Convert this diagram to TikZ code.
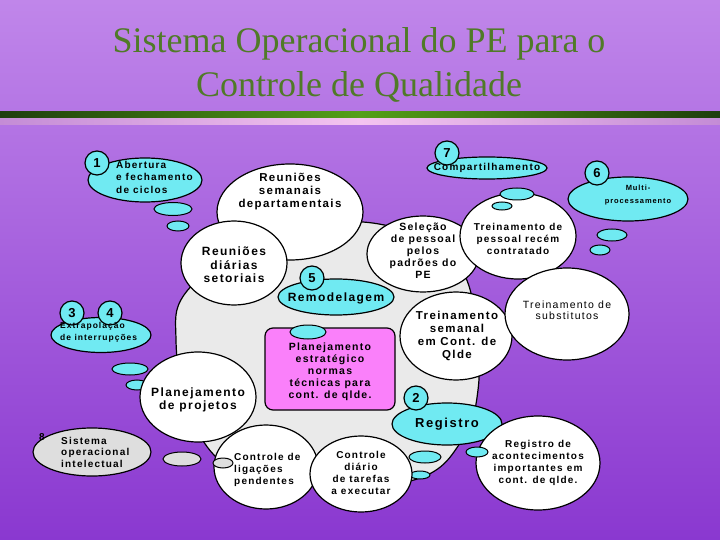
\documentclass[tikz,border=0pt]{standalone}
\usepackage{fontspec}
\setmainfont{Liberation Sans}
\newfontfamily\bubfont{Liberation Sans}[LetterSpace=12]
\newfontfamily\titlefont{Liberation Serif}
\newcommand\bsf[2]{\bubfont\bfseries\fontsize{#1}{#2}\selectfont}
\usetikzlibrary{shapes.geometric,calc}

\definecolor{bgtop}{RGB}{192,134,234}
\definecolor{bgbot}{RGB}{138,56,208}
\definecolor{bardark}{RGB}{30,62,12}
\definecolor{barlight}{RGB}{84,160,24}
\definecolor{pinkdark}{RGB}{196,140,214}
\definecolor{pinklight}{RGB}{244,196,240}
\definecolor{titlegreen}{RGB}{80,122,40}
\definecolor{bubcyan}{RGB}{112,234,242}
\definecolor{boxpink}{RGB}{250,128,250}
\definecolor{blobgray}{RGB}{234,234,234}
\definecolor{sysgray}{RGB}{222,222,222}

\begin{document}
\begin{tikzpicture}[x=1pt,y=-1pt,
    bub/.style={ellipse,draw=black,line width=1.2pt,fill=white,inner sep=0pt},
    cyanbub/.style={bub,fill=bubcyan},
    puff/.style={ellipse,draw=black,line width=1pt,fill=bubcyan,inner sep=0pt},
    graypuff/.style={puff,fill=sysgray},
    numb/.style={circle,draw=black,line width=1.2pt,fill=bubcyan,minimum size=24pt,inner sep=0pt,font=\bsf{13}{13}},
    txt/.style={inner sep=0pt,align=center}]

    \useasboundingbox (0,0) rectangle (720,540);
    \fill[top color=bgtop,bottom color=bgbot] (0,0) rectangle (720,540);
    \shade[left color=bardark,right color=bardark,middle color=barlight] (0,112) rectangle (720,119);
    \shade[left color=pinkdark,right color=pinkdark,middle color=pinklight] (0,119) rectangle (720,125);

    \node[font=\titlefont\fontsize{36}{36}\selectfont,text=titlegreen,anchor=base] (title1) at (359,53) {Sistema Operacional do PE para o};
    \node[font=\titlefont\fontsize{36}{36}\selectfont,text=titlegreen,anchor=base] (title2) at (359,97) {Controle de Qualidade};

    % grey core
    \draw[line width=1.2pt,fill=blobgray] plot[smooth cycle,tension=0.7] coordinates {(300,235) (363,222) (440,245) (466,278) (476,330) (478,390) (462,440) (420,478) (340,485) (260,478) (214,455) (186,400) (176,340) (184,295) (230,262)};

    % 1
    \node[cyanbub,minimum width=114pt,minimum height=44pt] (abert) at (145,180) {};
    \node[numb] (n1) at (97,163) {1};
    \node[txt,font=\bsf{10}{12.5},align=left,anchor=west] (abert-t) at (116,177) {Abertura\\e fechamento\\de ciclos};
    \node[puff,minimum width=38pt,minimum height=13pt] (abert-p1) at (173,209) {};
    \node[puff,minimum width=22pt,minimum height=10pt] (abert-p2) at (178,226) {};

    \node[bub,minimum width=146pt,minimum height=96pt] (seman) at (290,212) {};
    \node[txt,font=\bsf{11.5}{13}] (seman-t) at (290,192) {Reuniões\\semanais\\departamentais};
    \node[bub,minimum width=106pt,minimum height=84pt] (diar) at (234,263) {};
    \node[txt,font=\bsf{12}{13.5}] (diar-t) at (234,265) {Reuniões\\diárias\\setoriais};

    % 7 and 6
    \node[cyanbub,minimum width=120pt,minimum height=22pt] (comp) at (487,168) {};
    \node[txt,font=\bsf{10}{12}] (comp-t) at (487,168) {Compartilhamento};
    \node[numb] (n7) at (447,153) {7};
    \node[cyanbub,minimum width=120pt,minimum height=44pt] (multi) at (628,199) {};
    \node[numb] (n6) at (597,173) {6};
    \node[txt,font=\bsf{7.5}{13}] (multi-t) at (638,195) {Multi-\\processamento};
    \node[puff,minimum width=30pt,minimum height=12pt] (multi-p1) at (612,235) {};
    \node[puff,minimum width=20pt,minimum height=10pt] (multi-p2) at (600,250) {};

    \node[bub,minimum width=112pt,minimum height=76pt] (selec) at (423,254) {};
    \node[txt,font=\bsf{10.5}{12}] (selec-t) at (423,251) {Seleção\\de pessoal\\pelos\\padrões do\\PE};
    \node[bub,minimum width=116pt,minimum height=86pt] (recem) at (518,236) {};
    \node[txt,font=\bsf{10}{12}] (recem-t) at (518,239) {Treinamento de\\pessoal recém\\contratado};
    \node[puff,minimum width=34pt,minimum height=12pt] (recem-p1) at (517,194) {};
    \node[puff,minimum width=20pt,minimum height=8pt] (recem-p2) at (502,206) {};

    % 5
    \node[cyanbub,minimum width=116pt,minimum height=36pt] (remod) at (336,297) {};
    \node[txt,font=\bsf{12}{13}] (remod-t) at (336,298) {Remodelagem};
    \node[numb] (n5) at (312,278) {5};

    \node[bub,minimum width=112pt,minimum height=88pt] (tsem) at (456,336) {};
    \node[txt,font=\bsf{11.5}{13}] (tsem-t) at (457,336) {Treinamento\\semanal\\em Cont. de\\Qlde};
    \node[bub,minimum width=124pt,minimum height=92pt] (subst) at (567,314) {};
    \node[txt,font=\bubfont\fontsize{10.5}{11.5}\selectfont] (subst-t) at (567,310) {Treinamento de\\substitutos};

    \node[rectangle,rounded corners=8pt,draw=black,line width=1.2pt,fill=boxpink,minimum width=130pt,minimum height=82pt] (plan) at (330,369) {};
    \node[txt,font=\bsf{10.5}{12}] (plan-t) at (330,372) {Planejamento\\estratégico\\normas\\técnicas para\\cont. de qlde.};
    \node[puff,minimum width=36pt,minimum height=14pt] (plan-p) at (308,332) {};

    % 3 4
    \node[cyanbub,minimum width=100pt,minimum height=35pt] (extra) at (101,335) {};
    \node[numb] (n3) at (72,313) {3};
    \node[numb] (n4) at (110,313) {4};
    \node[txt,font=\bsf{8.5}{12},align=left,anchor=west] (extra-t) at (60,332) {Extrapolação\\de interrupções};
    \node[puff,minimum width=36pt,minimum height=12pt] (extra-p1) at (130,369) {};
    \node[puff,minimum width=22pt,minimum height=10pt] (extra-p2) at (137,385) {};

    % 8
    \node[bub,fill=sysgray,minimum width=118pt,minimum height=48pt] (sist) at (92,452) {};
    \node[txt,font=\bsf{10}{11.5},align=left,anchor=west] (sist-t) at (61,452) {Sistema\\operacional\\intelectual};
    \node[txt,font=\bsf{10}{10}] (n8) at (42,437) {8};
    \node[graypuff,minimum width=38pt,minimum height=14pt] (sist-p1) at (182,459) {};

    \node[bub,minimum width=104pt,minimum height=84pt] (ligac) at (266,467) {};
    \node[txt,font=\bsf{10}{12},align=left,anchor=west] (ligac-t) at (234,470) {Controle de\\ligações\\pendentes};
    \node[graypuff,minimum width=20pt,minimum height=10pt] (sist-p2) at (223,463) {};
    \node[bub,minimum width=116pt,minimum height=90pt] (proj) at (198,397) {};
    \node[txt,font=\bsf{12}{13}] (proj-t) at (198,400) {Planejamento\\de projetos};

    % 2
    \node[puff,minimum width=32pt,minimum height=12pt] (regis-p1) at (425,457) {};
    \node[puff,minimum width=20pt,minimum height=8pt] (regis-p2) at (420,475) {};
    \node[bub,minimum width=102pt,minimum height=76pt] (diario) at (361,474) {};
    \node[txt,font=\bsf{10}{12}] (diario-t) at (361,473) {Controle\\diário\\de tarefas\\a executar};
    \node[cyanbub,minimum width=110pt,minimum height=42pt] (regis) at (447,424) {};
    \node[txt,font=\bsf{13}{13}] (regis-t) at (447,424) {Registro};
    \node[numb] (n2) at (416,398) {2};
    \node[bub,minimum width=124pt,minimum height=94pt] (acont) at (538,463) {};
    \node[txt,font=\bsf{10}{12}] (acont-t) at (538,463) {Registro de\\acontecimentos\\importantes em\\cont. de qlde.};
    \node[puff,minimum width=22pt,minimum height=10pt] (regis-p3) at (477,452) {};

\end{tikzpicture}
\end{document}
